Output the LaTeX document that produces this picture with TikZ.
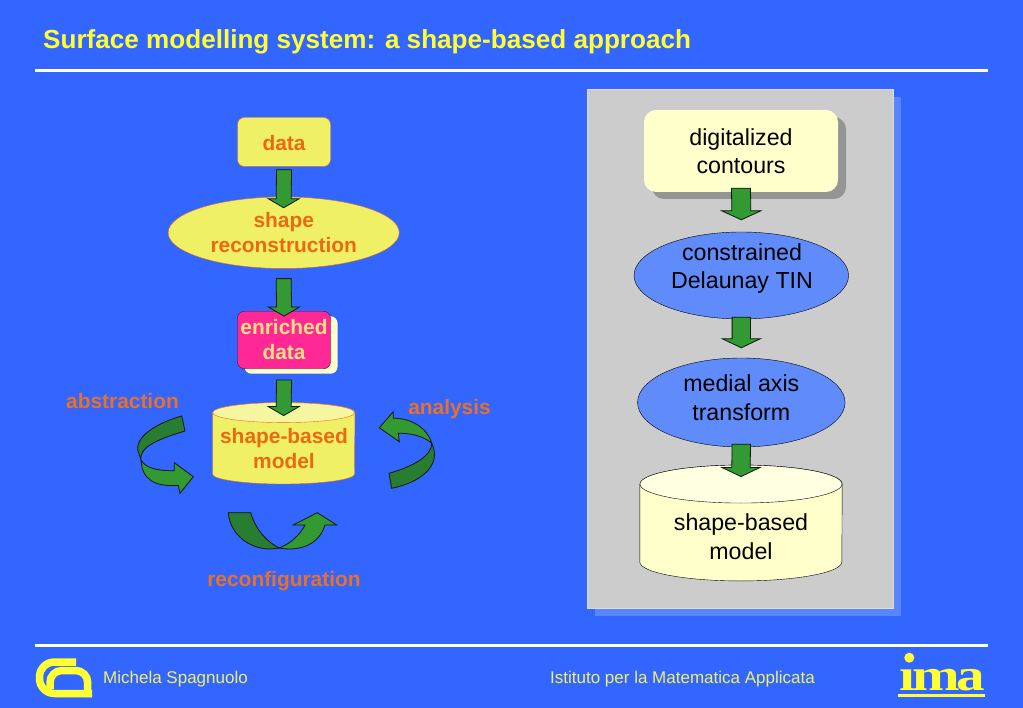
\documentclass[tikz,border=0pt]{standalone}
\usepackage{fontspec}
\setmainfont{Liberation Sans}
\newfontfamily\imafont{Liberation Serif}
\usepackage{xcolor}
\usetikzlibrary{positioning,arrows.meta,calc,shapes.geometric,shadows}
\definecolor{dBack}{RGB}{51,102,255}
\definecolor{dTitle}{RGB}{255,255,51}
\definecolor{dOrange}{RGB}{236,105,20}
\definecolor{dLabel}{RGB}{232,112,40}
\definecolor{dFill}{RGB}{240,240,102}
\definecolor{dTop}{RGB}{246,246,160}
\definecolor{dPale}{RGB}{255,255,204}
\definecolor{dPaleTop}{RGB}{255,255,225}
\definecolor{dPink}{RGB}{255,40,150}
\definecolor{dPinkTxt}{RGB}{255,225,130}
\definecolor{dPanel}{RGB}{204,204,204}
\definecolor{dPanelSh}{RGB}{88,134,252}
\definecolor{dBlue}{RGB}{95,140,250}
\definecolor{dGreen}{RGB}{51,153,51}
\definecolor{dDark}{RGB}{40,125,50}
\tikzset{
  proc/.style={rectangle, rounded corners=7pt, draw=dOrange, fill=dFill, text=dOrange,
               minimum height=49pt, minimum width=93pt, align=center, inner sep=0pt,
               font=\fontsize{20.9}{25}\selectfont\bfseries},
  oval/.style={ellipse, draw=dOrange, fill=dFill, text=dOrange, align=center, inner sep=0pt,
               minimum height=71.5pt, minimum width=231pt,
               font=\fontsize{20.9}{25}\selectfont\bfseries},
  paleproc/.style={rectangle, rounded corners=12pt, fill=dPale, align=center, inner sep=0pt,
               minimum height=82pt, minimum width=194pt,
               font=\fontsize{23.2}{28.5}\selectfont},
  blueoval/.style={ellipse, draw=black, fill=dBlue, inner sep=0pt},
  bluetxt/.style={align=center, inner sep=0pt, font=\fontsize{23.2}{28.5}\selectfont},
  blockarrow/.style={draw=black!80!dDark, fill=dGreen, line width=0.8pt, line join=miter},
  curvedark/.style={draw=black!80!dDark, fill=dDark, line width=0.8pt},
  curvelight/.style={draw=black!80!dDark, fill=dGreen, line width=0.8pt},
  lbl/.style={text=dLabel, inner sep=0pt, font=\fontsize{20.9}{25}\selectfont\bfseries},
  foot/.style={text=dFill, inner sep=0pt, font=\fontsize{17}{20}\selectfont},
  rule/.style={draw=white, line width=3pt},
  logoband/.style={draw=dTitle, line width=7.5pt},
}
\newcommand{\BlockArrow}[5][7.5]{%
  \draw[blockarrow] ($(#2)+(-#1,#3)$) -- ($(#2)+(#1,#3)$) -- ($(#4)+(#1,#5-9)$)
    -- ($(#4)+(2.06*#1,#5-9)$) -- ($(#4)+(0,#5)$) -- ($(#4)+(-2.06*#1,#5-9)$)
    -- ($(#4)+(-#1,#5-9)$) -- cycle;}
% drum drawn round a named box: node, half width, end radius, line, body, end
\newcommand{\Drum}[6]{%
  \draw[draw=#4,fill=#5] ($(#1.north west)+(0,#3)$) -- ($(#1.south west)+(0,-#3)$)
    arc[start angle=180,end angle=360,x radius=#2pt,y radius=#3pt]
    -- ($(#1.north east)+(0,#3)$) arc[start angle=0,end angle=180,x radius=#2pt,y radius=#3pt] -- cycle;
  \draw[draw=#4,fill=#6] ($(#1.north)+(0,#3)$) ellipse[x radius=#2pt,y radius=#3pt];}
\begin{document}
\begin{tikzpicture}[x=1pt,y=-1pt]
  \fill[dBack] (0,0) rectangle (1023,708);
  \useasboundingbox (0,0) rectangle (1023,708);

  \node[anchor=base west,inner sep=0pt,text=dTitle,font=\fontsize{26.1}{30}\selectfont\bfseries]
       (title) at (43,49) {Surface modelling system: a shape-based approach};
  \draw[rule] (35,71) -- (988,71);
  \draw[rule] (35,645) -- (988,645);

  % left column
  \node[proc,text height=18pt] (data) at (284,142) {data};
  \node[oval] (recon) at (283.7,232.7) {shape\\reconstruction};
  \node[proc,fill=dPink,draw=black!70!dPink,text=dPinkTxt,minimum height=57.5pt,
        copy shadow={shadow xshift=7pt,shadow yshift=-5pt,fill=dPale,draw=none}]
       (enriched) at (284,340) {enriched\\data};
  \node[minimum width=142pt,minimum height=81pt,inner sep=0pt] (model) at (283.7,443.3) {};
  \Drum{model}{71}{10}{dOrange}{dFill}{dTop}
  \node[text=dOrange,align=center,inner sep=0pt,font=\fontsize{20.9}{25}\selectfont\bfseries]
       (modeltxt) at (284,449) {shape-based\\model};

  \BlockArrow{data.south}{3}{recon.north}{11}
  \BlockArrow{recon.south}{10}{enriched.north}{5}
  \BlockArrow{enriched.south}{11}{model.north}{13}

  \node[lbl] (abstr) at (122.5,401) {abstraction};
  \node[lbl] (anal) at (449.5,409.5) {analysis};
  \node[lbl] (reconf) at (284,581) {reconfiguration};

  % curved arrows round the model
  \draw[curvedark] (181.7,416) .. controls (160,422) and (136,435) .. (137.7,450) -- (141,460)
       .. controls (139,448) and (155,440) .. (185,431) -- cycle;
  \draw[curvelight] (141,460) .. controls (145,468) and (158,471) .. (174.3,470.7) -- (174.3,462.7)
       -- (193.3,476.7) -- (180,493.3) -- (178.3,485.3)
       .. controls (155,487) and (142,480) .. (141,460) -- cycle;
  \draw[curvedark] (391.7,488.3) .. controls (422,482) and (442,465) .. (431.7,443.3)
       .. controls (432,455) and (415,466) .. (389,473.3) -- cycle;
  \draw[curvelight] (431.7,443.3) .. controls (427,427) and (410,418) .. (393.3,418.3) -- (393.3,411.7)
       -- (379.3,427.7) -- (399.3,441.7) -- (398.3,433.3)
       .. controls (410,433) and (424,436) .. (431.7,443.3) -- cycle;
  \draw[curvedark] (228.3,512.7) .. controls (230,535) and (250,549) .. (270,549) -- (279,548)
       .. controls (266,541) and (256,530) .. (250.7,512.7) -- cycle;
  \draw[curvelight] (279,548) .. controls (295,551) and (318,548) .. (325,525) -- (336.7,525)
       -- (317.3,512.7) -- (293.3,525) -- (305,525)
       .. controls (300,535) and (290,544) .. (279,548) -- cycle;

  % right panel
  \node[rectangle,fill=dPanel,draw=dPanel!70!white,minimum width=305.5pt,minimum height=519pt,inner sep=0pt,
        copy shadow={shadow xshift=8pt,shadow yshift=-8pt,fill=dPanelSh,draw=none}]
       (panel) at (740,348.5) {};
  \node[paleproc,copy shadow={shadow xshift=8pt,shadow yshift=-7pt,fill=black!42,draw=none}]
       (contours) at (741,151) {digitalized\\contours};
  \node[blueoval,minimum width=214.5pt,minimum height=87pt] (tin) at (741.3,275.5) {};
  \node[bluetxt] (tintxt) at (742,268.5) {constrained\\Delaunay TIN};
  \node[blueoval,minimum width=207.5pt,minimum height=89pt] (medial) at (741.3,402.5) {};
  \node[bluetxt] (medialtxt) at (741.3,397.5) {medial axis\\transform};
  \node[minimum width=202pt,minimum height=115.5pt,inner sep=0pt] (model2) at (741,523) {};
  \Drum{model2}{101}{19}{black}{dPale}{dPaleTop}
  \node[bluetxt] (model2txt) at (741,536.5) {shape-based\\model};

  \BlockArrow[9.5]{contours.south}{-4}{tin.north}{-12}
  \BlockArrow[9.2]{tin.south}{-2}{medial.north}{-10}
  \BlockArrow[9.2]{medial.south}{-3}{model2.north}{11.5}

  % footer
  \node[foot,anchor=base west] (author) at (103,683) {Michela Spagnuolo};
  \node[foot,anchor=base west] (inst) at (550,683) {Istituto per la Matematica Applicata};

  \draw[logoband,rounded corners=15pt] (76,662) -- (39.5,662) -- (39.5,693.5) -- (92,693.5);
  \draw[logoband,rounded corners=12pt] (50,689) -- (50,670.5) -- (87.7,670.5) -- (87.7,697);

  \node[anchor=base,inner sep=0pt,text=dTitle,xscale=1.27,transform shape,
        font=\imafont\fontsize{45}{45}\selectfont\bfseries]
       (ima) at (942,690) {ı\kern-2ptm\kern-3pta};
  \fill[dTitle] (909.3,657.7) circle[radius=5];
  \fill[dTitle] (898,693.5) rectangle (985,697);
\end{tikzpicture}
\end{document}
